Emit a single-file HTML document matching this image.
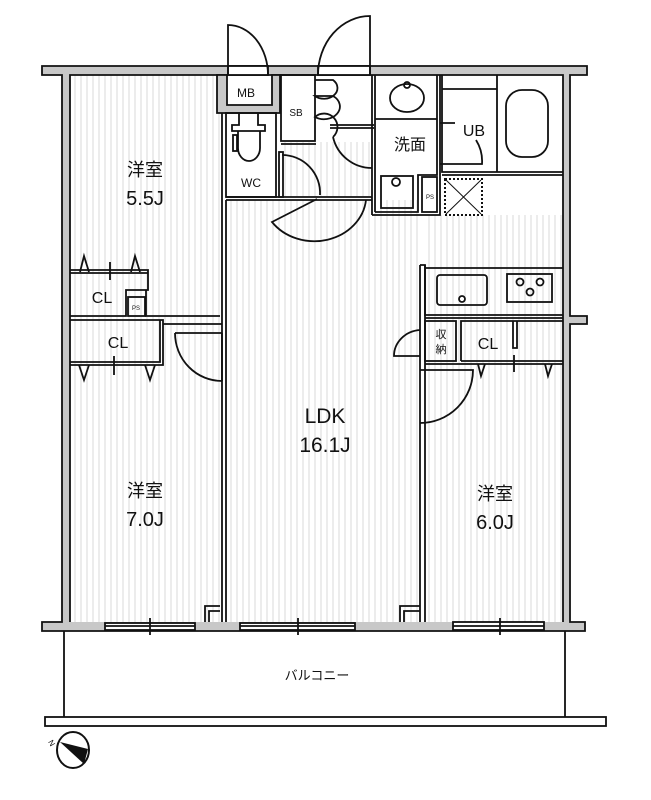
<!DOCTYPE html>
<html><head><meta charset="utf-8"><style>
html,body{margin:0;padding:0;background:#fff;}
svg{display:block;}
text{font-family:"Liberation Sans","Noto Sans CJK JP",sans-serif;fill:#111;}
</style></head><body>
<svg width="651" height="800" viewBox="0 0 651 800" xmlns="http://www.w3.org/2000/svg">
<defs>
<pattern id="h" width="6" height="10" patternUnits="userSpaceOnUse"><line x1="3" y1="0" x2="3" y2="10" stroke="#d9d9d9" stroke-width="1"/></pattern>
</defs>
<rect x="282" y="142" width="90" height="55" fill="url(#h)"/>

<g fill="none" stroke="#111" stroke-width="1.8">
<path d="M42 66 H587 V75 H570 V316 H587 V324 H570 V622 H585 V631 H42 V622 H62 V75 H42 Z" fill="#c8c8c8"/>
<rect x="70" y="75" width="493" height="547" fill="#fff" stroke="none"/>
<rect x="70" y="75" width="150" height="547" fill="url(#h)" stroke="none"/>
<rect x="226" y="200" width="194" height="422" fill="url(#h)" stroke="none"/>
<rect x="425" y="215" width="138" height="407" fill="url(#h)" stroke="none"/>
<rect x="282" y="142" width="90" height="55" fill="url(#h)" stroke="none"/>
<rect x="148" y="270" width="72" height="50" fill="url(#h)" stroke="none"/>
<path d="M70 622 V75 H563 V622"/>
<rect x="105" y="623" width="90" height="7" fill="#fff"/>
<line x1="105" y1="626" x2="195" y2="626"/><line x1="150" y1="618" x2="150" y2="635"/>
<rect x="240" y="623" width="115" height="7" fill="#fff"/>
<line x1="240" y1="626" x2="355" y2="626"/><line x1="298" y1="618" x2="298" y2="635"/>
<rect x="453" y="622" width="91" height="8" fill="#fff"/>
<line x1="453" y1="626" x2="544" y2="626"/><line x1="500" y1="618" x2="500" y2="635"/>
<rect x="318" y="66" width="52" height="9" fill="#fff"/>
<rect x="228" y="66" width="40" height="9" fill="#fff"/>

<path d="M217 75 V113 H280 V75 H272 V105 H227 V75 Z" fill="#c8c8c8"/>
<path d="M228 75 V25 A40 50 0 0 1 268 75"/>
<path d="M370 75 V16 A52 59 0 0 0 318 75"/>

<line x1="222" y1="113" x2="222" y2="622"/>
<line x1="226" y1="200" x2="226" y2="622"/>
<line x1="420" y1="265" x2="420" y2="622"/>
<line x1="425" y1="265" x2="425" y2="622"/>
<line x1="226" y1="200" x2="372" y2="200"/>
<line x1="226" y1="197" x2="372" y2="197"/>
<rect x="226" y="113" width="50" height="84"/>
<path d="M239 113 V125 H232 V131 H265 V125 H258 V113"/>
<path d="M238 131 V148 A11 13 0 0 0 260 148 V131"/>
<rect x="233" y="135" width="4" height="16"/>
<rect x="281" y="75" width="34" height="66"/>
<line x1="281" y1="144" x2="316" y2="144"/>
<path d="M315 80 H333 A10 8 0 0 1 315 96 H333 A10 8 0 0 1 315 117 A13 13 0 0 1 333 137"/>
<line x1="330" y1="125" x2="374" y2="125"/>
<line x1="330" y1="128" x2="374" y2="128"/>
<path d="M333 137 A40 40 0 0 0 372 168"/>
<rect x="279" y="152" width="4" height="45"/>
<path d="M282 155 A38 38 0 0 1 320 195"/>
<path d="M317 199 L272 222 A52 46 0 0 0 366 200"/>
<line x1="372" y1="75" x2="372" y2="215"/><line x1="375" y1="75" x2="375" y2="212"/>
<path d="M375 119 H437 M372 215 H440 V178 M375 212 H418 V175 H437 V75"/>
<line x1="440" y1="75" x2="440" y2="178"/>
<ellipse cx="407" cy="98" rx="17" ry="14"/>
<circle cx="407" cy="85" r="3"/>
<rect x="381" y="176" width="32" height="32"/>
<circle cx="396" cy="182" r="4"/>
<rect x="422" y="177" width="15" height="35"/>
<path d="M442 75 V172 H563 M442 89 H497 M497 75 V172 M442 175 H563"/>
<rect x="506" y="90" width="42" height="67" rx="16"/>
<path d="M440 123 H455 M440 164 H482 A40 40 0 0 0 476 140"/>
<rect x="445" y="179" width="37" height="36" stroke-dasharray="2 2" stroke-width="2"/>
<path d="M446 180 L481 214 M481 180 L446 214" stroke-width="1"/>

<path d="M70 270 H148 V290 H126 V316 H70 M70 273 H148 M146 290 V316 H220" />
<rect x="128" y="297" width="17" height="19"/>
<path d="M70 320 H160 V362 H70 M160 320 H163 V365 H70 M163 324 H222" />
<path d="M80 272 L84 256 L89 272 M131 272 L135 256 L140 272"/>
<line x1="110" y1="262" x2="110" y2="280"/>
<path d="M79 365 L84 380 L89 365 M145 365 L150 380 L155 365"/>
<line x1="114" y1="356" x2="114" y2="375"/>
<path d="M175 333 H222 M175 333 A47 48 0 0 0 222 381 M222 333 V381"/>

<path d="M420 265 H425 V315 H563 M425 268 H563 M425 318 H563"/>
<rect x="437" y="275" width="50" height="30" rx="3"/>
<circle cx="462" cy="299" r="3"/>
<rect x="507" y="274" width="45" height="28"/>
<circle cx="520" cy="282" r="3.5"/><circle cx="540" cy="282" r="3.5"/><circle cx="530" cy="292" r="3.5"/>
<rect x="425" y="321" width="31" height="40"/>
<path d="M461 361 V321 H513 V348 H517 V321 M513 321 H563 M461 361 H563 M425 364 H563"/>
<path d="M478 364 L481 376 L485 364 M545 364 L548 376 L552 364"/>
<line x1="514" y1="355" x2="514" y2="372"/>
<path d="M420 330 A28 26 0 0 0 394 356 H420"/>
<path d="M420 370 H473 A53 53 0 0 1 420 423"/>
<path d="M205 622 V606 H220 M209 622 V611 H220"/>
<path d="M400 622 V606 H420 M404 622 V611 H420"/>

<line x1="64" y1="631" x2="64" y2="717"/>
<line x1="565" y1="631" x2="565" y2="717"/>
<rect x="45" y="717" width="561" height="9" fill="#fff"/>
<ellipse cx="73" cy="750" rx="16" ry="18" stroke-width="2"/>
</g>
<path d="M60 742 L88 749 L84 764 Z" fill="#111"/>
<text x="49" y="746" font-size="8" transform="rotate(60 52 743)">N</text>

<text x="145" y="176" font-size="18" text-anchor="middle">洋室</text>
<text x="145" y="205" font-size="20" text-anchor="middle">5.5J</text>
<text x="145" y="497" font-size="18" text-anchor="middle">洋室</text>
<text x="145" y="526" font-size="20" text-anchor="middle">7.0J</text>
<text x="495" y="500" font-size="18" text-anchor="middle">洋室</text>
<text x="495" y="529" font-size="20" text-anchor="middle">6.0J</text>
<text x="325" y="423" font-size="21" text-anchor="middle">LDK</text>
<text x="325" y="452" font-size="21" text-anchor="middle">16.1J</text>
<text x="102" y="303" font-size="16" text-anchor="middle">CL</text>
<text x="118" y="348" font-size="16" text-anchor="middle">CL</text>
<text x="488" y="349" font-size="16" text-anchor="middle">CL</text>
<text x="136" y="310" font-size="6" text-anchor="middle">PS</text>
<text x="430" y="199" font-size="6" text-anchor="middle">PS</text>
<text x="246" y="97" font-size="12" text-anchor="middle">MB</text>
<text x="296" y="116" font-size="10" text-anchor="middle">SB</text>
<text x="251" y="187" font-size="12" text-anchor="middle">WC</text>
<text x="410" y="150" font-size="16" text-anchor="middle">洗面</text>
<text x="474" y="136" font-size="16" text-anchor="middle">UB</text>
<text x="441" y="338" font-size="11" text-anchor="middle">収</text>
<text x="441" y="353" font-size="11" text-anchor="middle">納</text>
<text x="317" y="680" font-size="13" text-anchor="middle">バルコニー</text>
</svg>
</body></html>
